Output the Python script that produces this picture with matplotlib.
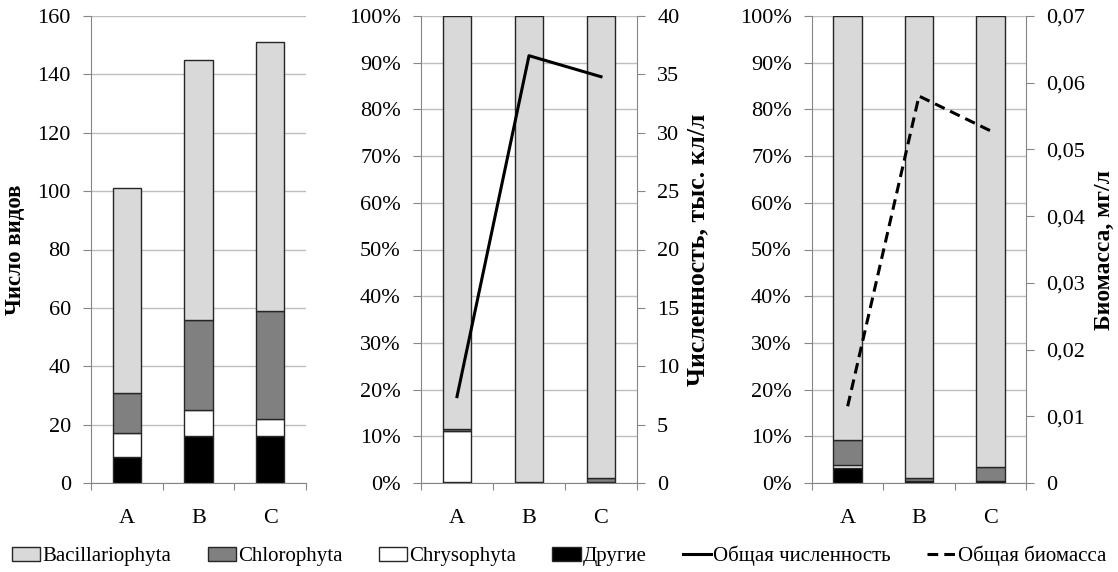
import matplotlib
matplotlib.use("Agg")
import matplotlib.pyplot as plt
from matplotlib.ticker import FuncFormatter, MultipleLocator
from matplotlib.patches import Patch
from matplotlib.lines import Line2D
import numpy as np

plt.rcParams['font.family'] = ['Liberation Serif', 'DejaVu Serif']

categories = ['A', 'B', 'C']
groups = ['Bacillariophyta', 'Chlorophyta', 'Chrysophyta', 'Другие']
colors = {'Bacillariophyta': '#d9d9d9', 'Chlorophyta': '#808080',
          'Chrysophyta': '#ffffff', 'Другие': '#000000'}

# Panel 1: number of species
species_other = [9, 16, 16]
species_chryso = [8, 9, 6]
species_chloro = [14, 31, 37]
species_bacill = [70, 89, 92]

# Panel 2: abundance share (%)
abund_other = [0.3, 0.1, 0.2]
abund_chryso = [10.9, 0.0, 0.0]
abund_chloro = [0.4, 0.1, 0.8]
abund_bacill = [88.4, 99.8, 99.0]
abund_total = [7.4, 36.6, 34.8]

# Panel 3: biomass share (%)
bio_other = [3.2, 0.5, 0.5]
bio_chryso = [0.6, 0.0, 0.0]
bio_chloro = [5.5, 0.5, 3.0]
bio_bacill = [90.7, 99.0, 96.5]
bio_total = [0.0115, 0.058, 0.0528]

W, H = 1118, 572
fig = plt.figure(figsize=(W / 100, H / 100), dpi=100)

def ax_rect(x0, x1, y0=16, y1=483):
    return [x0 / W, 1 - y1 / H, (x1 - x0) / W, (y1 - y0) / H]

GRID = '#bfbfbf'
SPINE = '#868686'
FS = 16
x = np.arange(len(categories)) + 0.5
bw = 0.4

def style(ax):
    ax.set_xlim(0, 3)
    ax.set_xticks([0, 1, 2, 3])
    ax.set_xticklabels([])
    ax.set_xticks(x, minor=True)
    ax.set_xticklabels(categories, minor=True, fontsize=FS)
    ax.tick_params(axis='x', which='minor', length=0, pad=19)
    ax.tick_params(axis='x', which='major', length=5, color=SPINE, direction='out')
    ax.tick_params(axis='y', length=5.5, color=SPINE, labelsize=FS, direction='out', pad=9)
    for s in ['top', 'right']:
        ax.spines[s].set_visible(False)
    for s in ['left', 'bottom']:
        ax.spines[s].set_color(SPINE)
    ax.grid(axis='y', color=GRID, lw=1)
    ax.set_axisbelow(True)

def style_right(axr):
    for s in ['top', 'left', 'bottom']:
        axr.spines[s].set_visible(False)
    axr.spines['right'].set_color(SPINE)
    axr.tick_params(axis='y', length=5.5, color=SPINE, labelsize=FS, pad=9)

def stack(ax, layers):
    bottom = np.zeros(len(categories))
    for name, vals in layers:
        ax.bar(x, vals, bw, bottom=bottom, color=colors[name],
               edgecolor='#262626', lw=1, zorder=2)
        bottom = bottom + np.array(vals)

# Panel 1
ax1 = fig.add_axes(ax_rect(91, 306))
style(ax1)
stack(ax1, [('Другие', species_other), ('Chrysophyta', species_chryso),
            ('Chlorophyta', species_chloro), ('Bacillariophyta', species_bacill)])
ax1.set_ylim(0, 160)
ax1.yaxis.set_major_locator(MultipleLocator(20))
ax1.set_ylabel('Число видов', fontsize=16.5, fontweight='bold')
ax1.yaxis.set_label_coords((26 - 91) / 215, 0.5)

pct = FuncFormatter(lambda v, p: f'{int(round(v))}%')

# Panel 2
ax2 = fig.add_axes(ax_rect(421, 637))
style(ax2)
stack(ax2, [('Другие', abund_other), ('Chrysophyta', abund_chryso),
            ('Chlorophyta', abund_chloro), ('Bacillariophyta', abund_bacill)])
ax2.set_ylim(0, 100)
ax2.yaxis.set_major_locator(MultipleLocator(10))
ax2.yaxis.set_major_formatter(pct)
ax2r = ax2.twinx()
ax2r.plot(x, abund_total, color='black', lw=2.2, zorder=3)
ax2r.set_ylim(0, 40)
ax2r.yaxis.set_major_locator(MultipleLocator(5))
style_right(ax2r)
ax2r.set_ylabel('Численность, тыс. кл/л', fontsize=18.5, fontweight='bold')
ax2r.yaxis.set_label_coords((686 - 421) / 216, 0.5)

# Panel 3
ax3 = fig.add_axes(ax_rect(812, 1026))
style(ax3)
stack(ax3, [('Другие', bio_other), ('Chrysophyta', bio_chryso),
            ('Chlorophyta', bio_chloro), ('Bacillariophyta', bio_bacill)])
ax3.set_ylim(0, 100)
ax3.yaxis.set_major_locator(MultipleLocator(10))
ax3.yaxis.set_major_formatter(pct)
ax3r = ax3.twinx()
ax3r.plot(x, bio_total, color='black', lw=2.2, ls=(0, (3.5, 2)), zorder=3)
ax3r.set_ylim(0, 0.07)
ax3r.set_yticks(np.arange(0, 0.0701, 0.01))
ax3r.yaxis.set_major_formatter(FuncFormatter(
    lambda v, p: '0' if abs(v) < 1e-9 else f'{v:.2f}'.replace('.', ',')))
style_right(ax3r)
ax3r.set_ylabel('Биомасса, мг/л', fontsize=17, fontweight='bold')
ax3r.yaxis.set_label_coords((1094 - 812) / 214, 0.5)

handles = [Patch(facecolor=colors[g], edgecolor='#262626', lw=1, label=g) for g in groups]
handles += [Line2D([0], [0], color='black', lw=2.2, label='Общая численность'),
            Line2D([0], [0], color='black', lw=2.2, ls=(0, (3.5, 2)), label='Общая биомасса')]
fig.legend(handles=handles, loc='center', bbox_to_anchor=(0.5, 1 - 556 / H),
           ncol=6, frameon=False, fontsize=15, handlelength=1.35, handleheight=0.6,
           handletextpad=0.1, columnspacing=1.75, borderpad=0, borderaxespad=0)

fig.savefig('out.png', dpi=100)
